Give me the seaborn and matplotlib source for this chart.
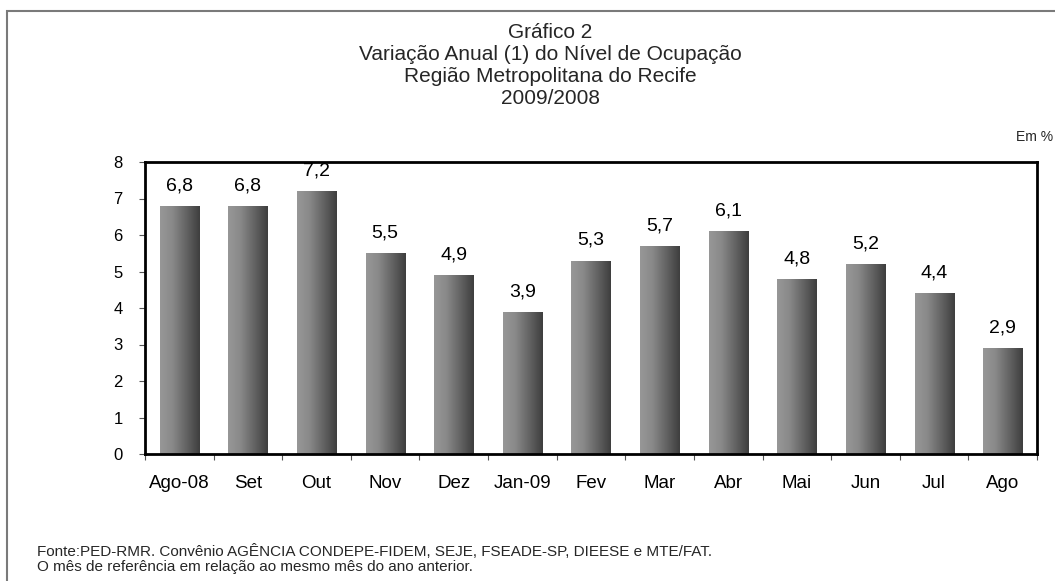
import numpy as np
import pandas as pd
import seaborn as sns
import matplotlib.pyplot as plt
from matplotlib.colors import LinearSegmentedColormap
from matplotlib.patches import Rectangle

# Data
meses = ['Ago-08', 'Set', 'Out', 'Nov', 'Dez', 'Jan-09', 'Fev',
         'Mar', 'Abr', 'Mai', 'Jun', 'Jul', 'Ago']
variacao = [6.8, 6.8, 7.2, 5.5, 4.9, 3.9, 5.3, 5.7, 6.1, 4.8, 5.2, 4.4, 2.9]

df = pd.DataFrame({'Mes': meses, 'Variacao': variacao})

sns.set_theme(style='white')
plt.rcParams['font.family'] = ['Liberation Sans', 'DejaVu Sans']

W, H = 1055, 581
fig = plt.figure(figsize=(W / 100, H / 100), dpi=100)
ax = fig.add_axes([145 / W, 1 - 454 / H, (1037 - 145) / W, (454 - 162) / H])

sns.barplot(data=df, x='Mes', y='Variacao', color='gray', width=0.57,
            ax=ax, saturation=1)

# horizontal gradient on each bar
cmap = LinearSegmentedColormap.from_list(
    'barra', [(0, '#979797'), (0.3, '#8a8a8a'), (0.6, '#6a6a6a'), (1, '#3e3e3e')])
grad = np.linspace(0, 1, 256).reshape(1, -1)
for p in ax.patches:
    x0, y0 = p.get_x(), p.get_y()
    w, h = p.get_width(), p.get_height()
    p.set_facecolor('none')
    p.set_edgecolor('none')
    im = ax.imshow(grad, cmap=cmap, aspect='auto', extent=[x0, x0 + w, y0, y0 + h],
                   zorder=1, interpolation='bicubic')
    im.set_clip_path(p)

for i, v in enumerate(variacao):
    ax.annotate(f'{v:.1f}'.replace('.', ','), (i, v), xytext=(0, 14.5),
                textcoords='offset points', ha='center', va='center',
                fontsize=14, color='black', zorder=2)

ax.set_xlim(-0.5, len(meses) - 0.5)
ax.set_ylim(0, 8)
ax.set_yticks(range(0, 9))
ax.set_xlabel('')
ax.set_ylabel('')

# ticks between categories
ax.set_xticks(np.arange(-0.5, len(meses), 1), minor=True)
ax.tick_params(axis='x', which='major', length=0, pad=15, labelsize=13.5, colors='black')
ax.tick_params(axis='x', which='minor', length=4.5, width=0.8, color='#555555',
               direction='out', bottom=True)
ax.tick_params(axis='y', length=4.5, width=0.8, color='#555555', direction='out',
               left=True, pad=11.5, labelsize=12, labelcolor='black')

for s in ax.spines.values():
    s.set_visible(True)
    s.set_color('black')
    s.set_linewidth(2)

# titles and notes
fig.text(550 / W, 1 - 23 / H,
         'Gráfico 2\nVariação Anual (1) do Nível de Ocupação\n'
         'Região Metropolitana do Recife\n2009/2008',
         ha='center', va='top', fontsize=15, linespacing=1.2)
fig.text(1016 / W, 1 - 137 / H, 'Em %', ha='left', va='center', fontsize=10)
fig.text(37 / W, 1 - 552 / H,
         'Fonte:PED-RMR. Convênio AGÊNCIA CONDEPE-FIDEM, SEJE, FSEADE-SP, DIEESE e MTE/FAT.',
         ha='left', va='center', fontsize=11)
fig.text(37 / W, 1 - 567 / H,
         'O mês de referência em relação ao mesmo mês do ano anterior.',
         ha='left', va='center', fontsize=11)

# outer frame of the chart area
fig.patches.append(Rectangle((7 / W, -0.2), 1.2, 1 - 11 / H + 0.2,
                             transform=fig.transFigure, fill=False,
                             edgecolor='#7a7a7a', linewidth=1.5))

fig.savefig('out.png', dpi=100)
